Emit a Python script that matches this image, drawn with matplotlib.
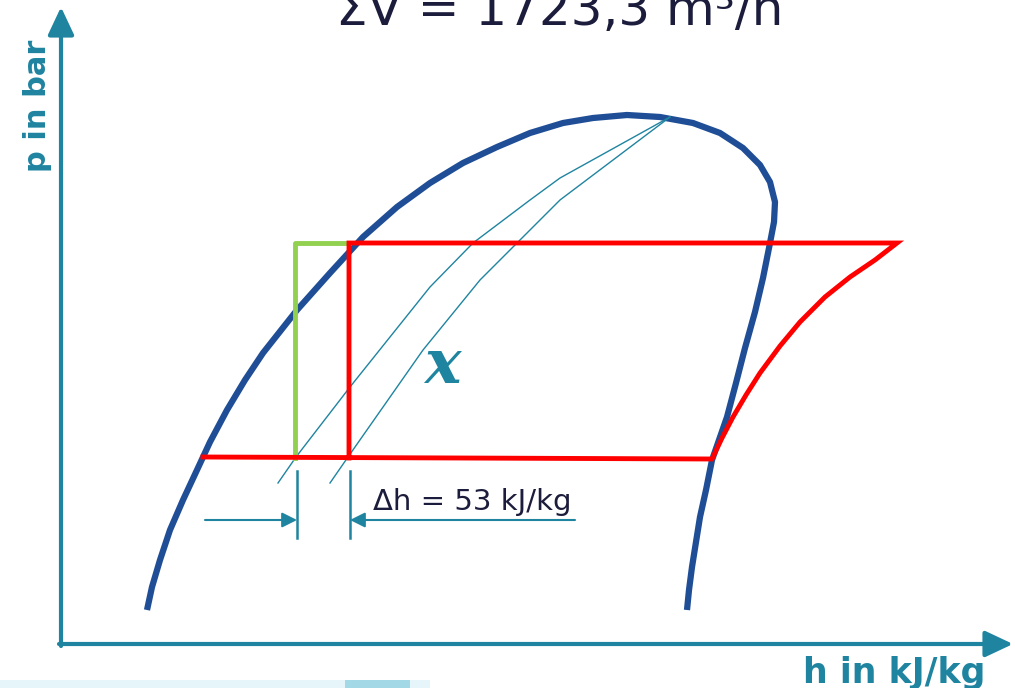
import numpy as np
import matplotlib.pyplot as plt
from matplotlib.patches import Rectangle

# saturation curve (boiling + dew line), h / p in diagram units
sat_h = [147, 152, 160, 170, 183, 197, 210, 227, 245, 263, 297, 330, 363, 397,
         430, 463, 497, 530, 563, 593, 627, 660, 693, 720, 743, 760, 770, 775,
         774, 770, 763, 755, 745, 736, 727, 719, 712, 706, 700, 696, 692, 689, 687]
sat_p = [78, 101, 128, 158, 188, 218, 246, 278, 308, 335, 378, 415, 451, 481,
         505, 525, 541, 555, 565, 570, 573, 571, 565, 555, 540, 523, 506, 486,
         466, 445, 410, 376, 340, 305, 271, 248, 228, 198, 171, 146, 121, 98, 78]

# red cycle: evaporation, compression, condensation, expansion
cyc_h = [203, 712, 722, 733, 746, 760, 780, 800, 825, 850, 875, 897, 349, 349]
cyc_p = [231, 229, 250, 271, 293, 315, 342, 366, 391, 411, 428, 445, 445, 230]

# green (subcooled) branch
sub_h = [295, 295, 349]
sub_p = [230, 445, 445]

# thin quality lines
x1_h = [278, 296, 350, 430, 473, 530, 560, 670]
x1_p = [205, 231, 301, 401, 445, 488, 510, 571]
x2_h = [330, 348, 423, 480, 530, 560, 670]
x2_p = [205, 231, 338, 408, 458, 488, 571]

# delta h dimension
dim_h = [297, 350]
dim_p = [150, 217]
dim_arrow_p = 168

teal = '#1f84a0'
navy = '#1f4e96'
dark = '#1c1c3c'

fig = plt.figure(figsize=(10.15, 6.88), dpi=100)
ax = fig.add_axes([0, 0, 1, 1])
ax.set_xlim(0, 1015)
ax.set_ylim(0, 688)
ax.axis('off')

# axes arrows
ax.annotate('', xy=(61, 681), xytext=(61, 42),
            arrowprops=dict(arrowstyle='-|>,head_length=1.7,head_width=0.8',
                            color=teal, lw=3, shrinkA=0, shrinkB=0))
ax.annotate('', xy=(1013, 44), xytext=(59, 44),
            arrowprops=dict(arrowstyle='-|>,head_length=1.7,head_width=0.8',
                            color=teal, lw=3, shrinkA=0, shrinkB=0))
ax.text(38, 582, 'p in bar', rotation=90, ha='center', va='center',
        fontsize=22, fontweight='bold', color=teal)
ax.text(985, 5, 'h in kJ/kg', ha='right', va='baseline',
        fontsize=25, fontweight='bold', color=teal)

ax.plot(sat_h, sat_p, color=navy, lw=4.5, solid_capstyle='butt', solid_joinstyle='round')
ax.plot(x1_h, x1_p, color=teal, lw=1)
ax.plot(x2_h, x2_p, color=teal, lw=1)
ax.plot(sub_h, sub_p, color='#92d050', lw=3.5)
ax.plot(cyc_h, cyc_p, color='#ff0000', lw=3.5, solid_joinstyle='miter')

# dimension lines
for h in dim_h:
    ax.plot([h, h], dim_p, color=teal, lw=1.8)
ax.annotate('', xy=(dim_h[0], dim_arrow_p), xytext=(205, dim_arrow_p),
            arrowprops=dict(arrowstyle='-|>,head_length=0.9,head_width=0.45',
                            color=teal, lw=1.5, shrinkA=0, shrinkB=0))
ax.annotate('', xy=(dim_h[1], dim_arrow_p), xytext=(575, dim_arrow_p),
            arrowprops=dict(arrowstyle='-|>,head_length=0.9,head_width=0.45',
                            color=teal, lw=1.5, shrinkA=0, shrinkB=0))
ax.text(373, 178, 'Δh = 53 kJ/kg', ha='left', va='baseline', fontsize=21, color=dark)

ax.text(442, 322, 'x', ha='center', va='center', fontsize=44, color=teal,
        family='DejaVu Serif', style='italic', fontweight='bold')

ax.text(560, 663, 'ΣV̇ = 1723,3 m³/h', ha='center', va='baseline', fontsize=36, color=dark)

# light band at the bottom edge
ax.add_patch(Rectangle((0, 0), 430, 8, color='#e6f5fa', lw=0))
ax.add_patch(Rectangle((345, 0), 65, 8, color='#a3d8e6', lw=0))

fig.savefig('out.png', dpi=100)
